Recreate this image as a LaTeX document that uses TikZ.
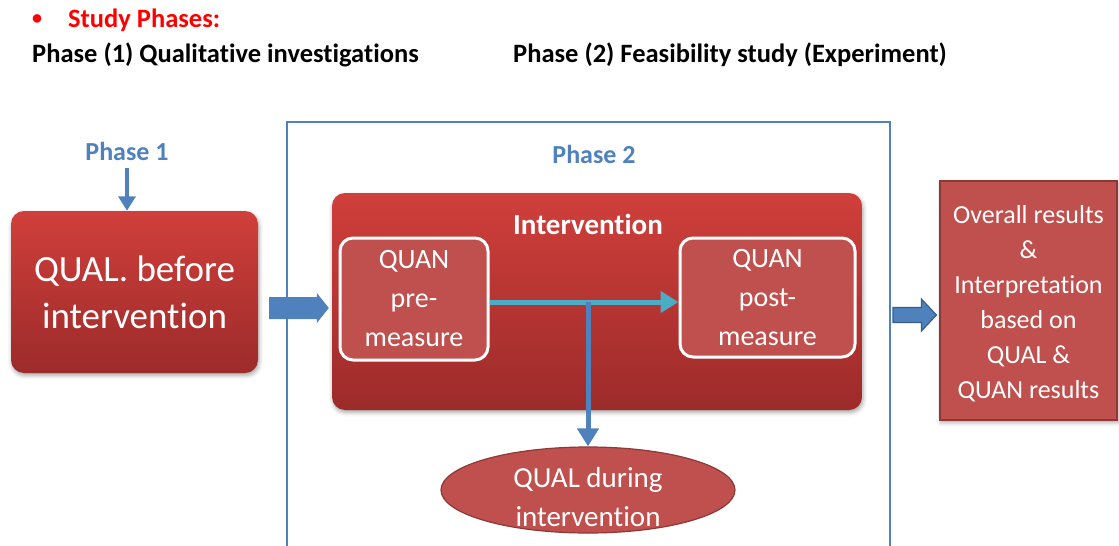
\documentclass[tikz,border=0pt]{standalone}
\usepackage{fontspec}
\setmainfont{Carlito}[Ligatures=NoCommon]
\usetikzlibrary{shapes.geometric,arrows.meta,shadows.blur,calc}
\definecolor{offblue}{HTML}{4F81BD}
\definecolor{darkblue}{HTML}{385D8A}
\definecolor{redtop}{HTML}{D03F3B}
\definecolor{redbot}{HTML}{9C2B2A}
\definecolor{softred}{HTML}{C0504D}
\definecolor{redline}{HTML}{8C3836}
\definecolor{cyanline}{HTML}{4BACC6}
\newcommand{\fs}[2]{\fontsize{#1}{#2}\selectfont}
% wide flat arrow: style, tail point, tip point, shaft half-height, head half-height, head length
\newcommand{\blockarrow}[6]{%
  \path[#1] let \p1=(#2), \p2=(#3) in
    (\x1,\y1+#4) -- (\x2-#6,\y1+#4) -- (\x2-#6,\y1+#5) -- (\x2,\y1)
    -- (\x2-#6,\y1-#5) -- (\x2-#6,\y1-#4) -- (\x1,\y1-#4) -- cycle;}
\begin{document}
\begin{tikzpicture}[x=1pt,y=-1pt,
  softshadow/.style={blur shadow={shadow xshift=1pt,shadow yshift=-2.5pt,shadow blur radius=4pt,shadow opacity=35}},
  gradbox/.style={rounded corners=13pt,top color=redtop,bottom color=redbot,draw=none,
    softshadow,text=white,align=center,inner sep=0pt},
  measurebox/.style={rounded corners=13pt,fill=softred,draw=white,line width=3pt,
    text=white,align=center,inner sep=0pt,font=\fs{28}{39}},
  flatbox/.style={fill=softred,draw=redline,line width=1.2pt,softshadow,
    text=white,align=center,inner sep=0pt},
  phaselabel/.style={text=offblue,font=\bfseries\fs{26}{30},inner sep=0pt},
  heading/.style={font=\bfseries\fs{26.5}{30},inner sep=0pt,anchor=west},
  thinarrow/.style={line width=#1,-{Triangle[width=4.2*#1,length=3.6*#1]}},
]
\useasboundingbox (0,0) rectangle (1119,546);

% headings
\node[text=red,font=\bfseries\fs{20}{24},inner sep=0pt] (bullet) at (37,20) {•};
\node[heading,text=red] (study) at (68,20) {Study Phases:};
\node[heading] (ph1title) at (32,55) {Phase (1) Qualitative investigations};
\node[heading] (ph2title) at (513,55) {Phase (2) Feasibility study (Experiment)};

% phase 2 frame
\draw[offblue,line width=2.2pt] (287,560) -- (287,122) -- (890,122) -- (890,560);
\node[phaselabel] (ph2) at (594,154) {Phase 2};

% phase 1
\node[phaselabel] (ph1) at (127,151) {Phase 1};
\node[gradbox,minimum width=247pt,minimum height=162pt,font=\fs{37}{47}]
  (before) at (134.5,292) {QUAL. before\\intervention};
\draw[offblue,thinarrow=4pt] ($(ph1.south)+(0,8)$) -- (ph1.south |- before.north);

% intervention block
\node[gradbox,minimum width=530pt,minimum height=217pt] (interv) at (597,301.5) {};
\node[text=white,font=\bfseries\fs{29}{34},inner sep=0pt] (intervlabel) at (588,224) {Intervention};
\node[measurebox,minimum width=148pt,minimum height=122pt] (pre) at (414,299)
  {QUAN\\pre-\\measure};
\node[measurebox,minimum width=175pt,minimum height=119pt] (post) at (767.5,297.5)
  {QUAN\\post-\\measure};

% qualitative strand during the intervention
\node[ellipse,fill=softred,draw=redline,line width=1.2pt,text=white,
  inner sep=0pt,minimum width=294pt,minimum height=86pt,font=\fs{29}{39}]
  (during) at (588,490)
  {\raisebox{-15pt}[0pt][0pt]{\begin{tabular}{@{}c@{}}QUAL during\\intervention\end{tabular}}};
\coordinate (split) at (588,302);
\draw[cyanline,thinarrow=5pt] (pre.east |- split) -- (post.west |- split);
\draw[offblue,thinarrow=5pt] (split) -- (during.north);

% results
\node[flatbox,minimum width=177pt,minimum height=239pt,font=\fs{26}{35}]
  (results) at (1028.5,300.5)
  {\raisebox{-3pt}[\height][\depth]{\begin{tabular}{@{}c@{}}Overall results\\\&\\Interpretation\\based on\\QUAL \&\\QUAN results\end{tabular}}};

% block arrows between the phases
\coordinate (aTail) at ($(before.east)+(11,16)$);
\coordinate (aTip) at ($(interv.west)+(-3,6.5)$);
\blockarrow{fill=offblue}{aTail}{aTip}{11pt}{15pt}{12pt}
\coordinate (bTail) at (893,315);
\coordinate (bTip) at ($(results.west)+(-3,14.5)$);
\blockarrow{fill=offblue,draw=darkblue,line width=1.2pt,line join=miter}{bTail}{bTip}{7.5pt}{16pt}{15pt}
\end{tikzpicture}
\end{document}
